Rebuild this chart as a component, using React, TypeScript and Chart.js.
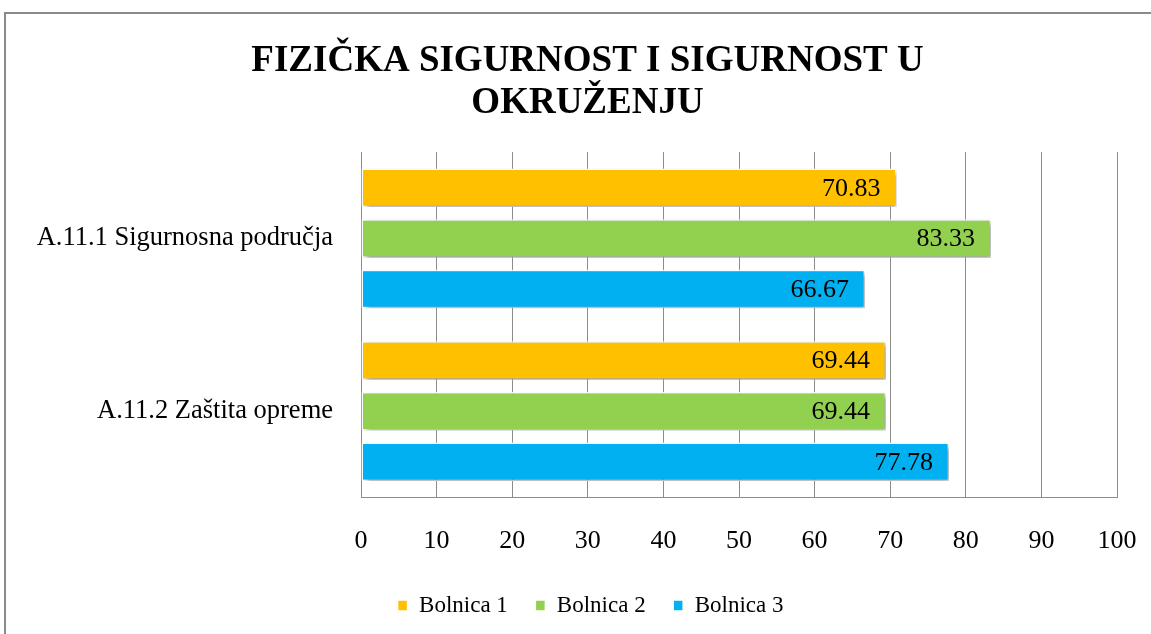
import React, { useEffect, useRef } from "react";
import { Chart, registerables } from "chart.js";

Chart.register(...registerables);

const categories = ["A.11.1 Sigurnosna područja", "A.11.2 Zaštita opreme"];
const seriesNames = ["Bolnica 1", "Bolnica 2", "Bolnica 3"];
const bolnica1 = [70.83, 69.44];
const bolnica2 = [83.33, 69.44];
const bolnica3 = [66.67, 77.78];
const seriesColors = ["#FFC000", "#92D050", "#00B0F0"];
const titleLines = ["FIZIČKA SIGURNOST I SIGURNOST U", "OKRUŽENJU"];

const SERIF = "'Liberation Serif', 'Times New Roman', serif";

const shadowPlugin = {
  id: "barShadow",
  beforeDatasetDraw(chart: any) {
    const ctx = chart.ctx;
    ctx.save();
    ctx.shadowColor = "rgba(0,0,0,0.4)";
    ctx.shadowBlur = 5;
    ctx.shadowOffsetX = 2.5;
    ctx.shadowOffsetY = 2.5;
  },
  afterDatasetDraw(chart: any) {
    chart.ctx.restore();
  },
};

const labelPlugin = {
  id: "barLabels",
  afterDatasetsDraw(chart: any) {
    const ctx = chart.ctx;
    ctx.save();
    ctx.font = `26px ${SERIF}`;
    ctx.fillStyle = "#000";
    ctx.textAlign = "right";
    ctx.textBaseline = "middle";
    chart.data.datasets.forEach((ds: any, i: number) => {
      const meta = chart.getDatasetMeta(i);
      meta.data.forEach((el: any, j: number) => {
        const v = ds.data[j] as number;
        ctx.fillText(v.toFixed(2), el.x - 16, el.y + 1);
      });
    });
    ctx.restore();
  },
};

// Centre title and legend on the (wider) original chart frame
const centerPlugin = {
  id: "centerBoxes",
  afterLayout(chart: any) {
    const shift = (box: any, cx: number) => {
      if (!box) return;
      const dx = cx - (box.left + box.right) / 2;
      box.left += dx;
      box.right += dx;
    };
    shift(chart.titleBlock, 587.5);
    shift(chart.legend, 590.5);
  },
};

export default function App() {
  const ref = useRef<HTMLCanvasElement | null>(null);
  useEffect(() => {
    if (!ref.current) return;
    const values = [bolnica1, bolnica2, bolnica3];
    const chart = new Chart(ref.current, {
      type: "bar",
      data: {
        labels: categories,
        datasets: seriesNames.map((name, i) => ({
          label: name,
          data: values[i],
          backgroundColor: seriesColors[i],
          borderColor: "#ffffff",
          borderWidth: 1.5,
          borderSkipped: false,
          categoryPercentage: 0.88,
          barPercentage: 0.76,
        })),
      },
      options: {
        indexAxis: "y",
        animation: false,
        responsive: false,
        maintainAspectRatio: false,
        layout: { padding: { left: 0, right: 34, top: 0, bottom: 7 } },
        plugins: {
          title: {
            display: true,
            text: titleLines,
            color: "#000",
            font: { family: SERIF, size: 37, weight: "bold", lineHeight: 1.15 },
            padding: { top: 40, bottom: 27 },
          },
          legend: {
            position: "bottom",
            labels: {
              color: "#000",
              font: { family: SERIF, size: 23 },
              boxWidth: 10,
              boxHeight: 11,
              padding: 27.5,
            },
          },
          tooltip: { enabled: false },
        },
        scales: {
          x: {
            min: 0,
            max: 100,
            ticks: {
              stepSize: 10,
              color: "#000",
              font: { family: SERIF, size: 26 },
              padding: 28,
            },
            grid: { color: "#8c8c8c", drawTicks: false, lineWidth: 1 },
            border: { display: true, color: "#8c8c8c" },
            afterFit: (scale: any) => {
              scale.height = 69;
              scale.paddingRight = 0;
              scale.paddingLeft = 0;
            },
          },
          y: {
            ticks: {
              color: "#000",
              font: { family: SERIF, size: 26.5 },
              padding: 28,
            },
            grid: { display: false, drawTicks: false },
            border: { display: true, color: "#8c8c8c" },
            afterFit: (scale: any) => {
              scale.width = 361;
            },
          },
        },
      },
      plugins: [shadowPlugin, labelPlugin, centerPlugin],
    });
    return () => chart.destroy();
  }, []);

  return (
    <div style={{ position: "fixed", left: 0, top: 0, width: 1151, height: 634, background: "#fff" }}>
      <canvas ref={ref} width={1151} height={634} style={{ position: "absolute", left: 0, top: 0 }} />
      <div
        style={{
          position: "absolute",
          left: 4,
          top: 12,
          width: 1200,
          height: 700,
          borderLeft: "2px solid #8a8a8a",
          borderTop: "2px solid #8a8a8a",
          pointerEvents: "none",
        }}
      />
    </div>
  );
}
